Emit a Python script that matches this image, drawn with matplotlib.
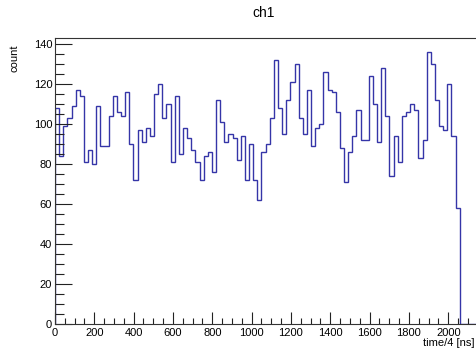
import numpy as np
import matplotlib
matplotlib.use("Agg")
import matplotlib.pyplot as plt
from matplotlib.ticker import MultipleLocator, FixedLocator

plt.rcParams['font.family'] = ['Liberation Sans', 'DejaVu Sans']

# Histogram contents (counts per bin), bins of width 21 starting at 0
counts = [108, 84, 99, 103, 109, 117, 114, 81, 87, 80,
          109, 89, 89, 104, 114, 106, 104, 116, 90, 72,
          97, 91, 98, 94, 115, 120, 103, 110, 81, 114,
          85, 98, 93, 87, 81, 72, 84, 86, 76, 112,
          101, 91, 95, 93, 82, 94, 72, 90, 72, 62,
          86, 90, 103, 132, 108, 95, 112, 121, 130, 103,
          95, 117, 89, 98, 100, 126, 117, 116, 106, 88,
          71, 86, 94, 107, 92, 92, 124, 110, 91, 128,
          104, 74, 94, 81, 104, 106, 110, 107, 83, 92,
          136, 130, 112, 99, 97, 120, 94, 58]
bin_width = 21
x_min, x_max = 0, 2200
n_empty = 8  # trailing empty bins
xticks = [0, 200, 400, 600, 800, 1000, 1200, 1400, 1600, 1800, 2000]
yticks = [0, 20, 40, 60, 80, 100, 120, 140]

title = "ch1"
xlabel = "time/4 [ns]"
ylabel = "count"

values = np.array(counts + [0] * n_empty, dtype=float)
edges = x_min + bin_width * np.arange(len(values) + 1)

W, H = 476, 350
fig = plt.figure(figsize=(W / 100, H / 100), dpi=100)
left_px, right_px, top_px, bottom_px = 55, 487.6, 38.3, 324
ax = fig.add_axes([left_px / W, 1 - bottom_px / H,
                   (right_px - left_px) / W, (bottom_px - top_px) / H])

ax.stairs(values, edges, color='#3535a8', linewidth=1.0, baseline=0)
ax.set_xlim(x_min, x_max)
ax.set_ylim(0, max(counts) * 1.05)

ax.xaxis.set_major_locator(FixedLocator(xticks))
ax.xaxis.set_minor_locator(MultipleLocator(50))
ax.yaxis.set_major_locator(FixedLocator(yticks))
ax.yaxis.set_minor_locator(MultipleLocator(5))
ax.tick_params(axis='both', which='both', direction='in', labelsize=8,
               width=0.8, color='#222222')
ax.tick_params(axis='x', which='major', length=8.5, pad=3)
ax.tick_params(axis='x', which='minor', length=4.3)
ax.tick_params(axis='y', which='major', length=12.5, pad=2)
ax.tick_params(axis='y', which='minor', length=6.3)
ax.tick_params(top=False, right=False)
for s in ax.spines.values():
    s.set_linewidth(0.8)
    s.set_color('#333333')

fig.text(264 / W, 1 - 13 / H, title, ha='center', va='center', fontsize=10)
fig.text(474.5 / W, 1 - 346 / H, xlabel, ha='right', va='baseline', fontsize=8)
fig.text(14 / W, 1 - 45 / H, ylabel, ha='center', va='top', rotation=90, fontsize=8)

fig.savefig('out.png', dpi=100)
